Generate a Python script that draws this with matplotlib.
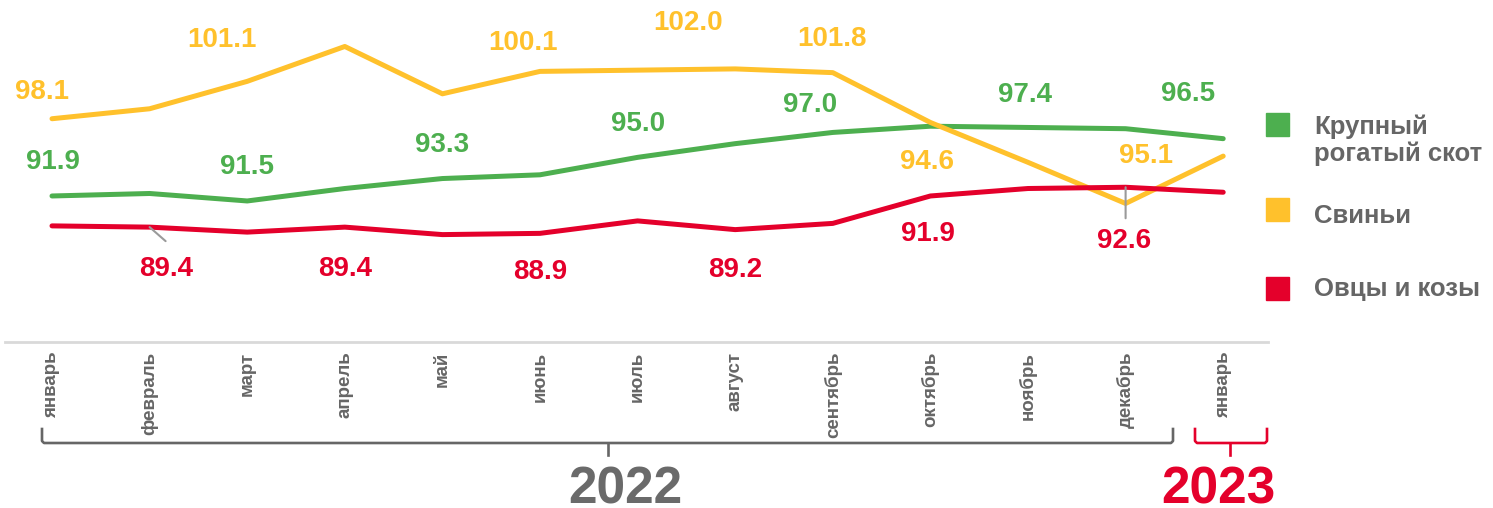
import matplotlib
matplotlib.use("Agg")
import matplotlib.pyplot as plt

plt.rcParams['font.family'] = ['Liberation Sans', 'DejaVu Sans']

# данные
months = ['январь', 'февраль', 'март', 'апрель', 'май', 'июнь', 'июль',
          'август', 'сентябрь', 'октябрь', 'ноябрь', 'декабрь', 'январь']
cattle = [91.9, 92.1, 91.5, 92.5, 93.3, 93.6, 95.0, 96.1, 97.0, 97.5, 97.4, 97.3, 96.5]
pigs = [98.1, 98.9, 101.1, 103.9, 100.1, 101.9, 102.0, 102.1, 101.8, 97.8, 94.6, 91.3, 95.1]
sheep = [89.5, 89.4, 89.0, 89.4, 88.8, 88.9, 89.9, 89.2, 89.7, 91.9, 92.5, 92.6, 92.2]
names = ['Крупный\nрогатый скот', 'Свиньи', 'Овцы и козы']
years = ['2022', '2023']

GREEN = '#4DAF4F'
YELLOW = '#FFC12C'
RED = '#E4002B'
GRAY = '#666666'

W, H = 1493, 508
fig = plt.figure(figsize=(W / 100, H / 100), dpi=100)
ax = fig.add_axes([5 / W, 166 / H, 1263 / W, 342 / H])

x = list(range(len(months)))
ax.plot(x, cattle, color=GREEN, lw=3.6, solid_capstyle='round', zorder=2)
ax.plot(x, pigs, color=YELLOW, lw=3.6, solid_capstyle='round', zorder=3)
ax.plot(x, sheep, color=RED, lw=3.6, solid_capstyle='round', zorder=4)

ax.set_xlim(-0.4816, 12.459)
ax.set_ylim(80.18, 107.63)

# подписи значений (смещения в пикселях)
pig_lbl = {0: (-10, 27), 2: (-25, 41), 4: (81, 51), 6: (50, 47), 8: (-1, 34), 10: (-101, 0), 12: (-77, 0)}
cat_lbl = {0: (1, 34), 2: (0, 34), 4: (0, 34), 6: (0, 33), 8: (-23, 27), 10: (-3, 32), 12: (-35, 45)}
shp_lbl = {1: (17, -42), 3: (0, -42), 5: (0, -39), 7: (0, -40), 9: (-2, -38), 11: (-2, -54)}

for vals, lbl, col in [(pigs, pig_lbl, YELLOW), (cattle, cat_lbl, GREEN), (sheep, shp_lbl, RED)]:
    for i, (dx, dy) in lbl.items():
        ax.annotate(f'{vals[i]:.1f}', xy=(i, vals[i]), xytext=(dx, dy),
                    textcoords='offset pixels', ha='center', va='center',
                    fontsize=20, fontweight='bold', color=col)

# выноски
ax.annotate('', xy=(1, sheep[1]), xytext=(16, -14), textcoords='offset pixels',
            arrowprops=dict(arrowstyle='-', color='#9a9a9a', lw=1.5, shrinkA=0, shrinkB=0), zorder=5)
ax.annotate('', xy=(11, sheep[11]), xytext=(0, -31), textcoords='offset pixels',
            arrowprops=dict(arrowstyle='-', color='#9a9a9a', lw=1.5, shrinkA=0, shrinkB=0), zorder=5)

ax.set_xticks(x)
ax.set_xticklabels(months, rotation=90, fontsize=13.5, fontweight='bold', color=GRAY, va='top')
ax.tick_params(axis='x', length=0, pad=7)
ax.set_yticks([])
for s in ['top', 'left', 'right']:
    ax.spines[s].set_visible(False)
ax.spines['bottom'].set_color('#D9D9D9')
ax.spines['bottom'].set_linewidth(2)

# слой в пикселях для скобок, годов и легенды
ov = fig.add_axes([0, 0, 1, 1], zorder=10)
ov.set_xlim(0, W)
ov.set_ylim(H, 0)
ov.axis('off')

def bracket(x0, x1, xm, col):
    ov.plot([x0, x0, x0 + 2, x1 - 2, x1, x1], [429, 441, 443, 443, 441, 429],
            color=col, lw=1.9, solid_joinstyle='round')
    ov.plot([xm, xm], [443, 455], color=col, lw=1.9)

bracket(42, 1173, 608, GRAY)
bracket(1195, 1267, 1230, RED)
ov.text(625, 504, years[0], ha='center', va='baseline', fontsize=37, fontweight='bold', color='#6A6A6A')
ov.text(1218, 504, years[1], ha='center', va='baseline', fontsize=37, fontweight='bold', color=RED)

# легенда
leg_y = [124.5, 209.5, 288.5]
txt_y = [140, 216, 289]
for name, col, sy, ty in zip(names, [GREEN, YELLOW, RED], leg_y, txt_y):
    ov.add_patch(plt.Rectangle((1266, sy - 11.5), 23, 23, color=col))
    ov.text(1314, ty, name, ha='left', va='center', fontsize=18.5, fontweight='bold',
            color=GRAY, linespacing=1.15)

fig.savefig('out.png', dpi=100)
